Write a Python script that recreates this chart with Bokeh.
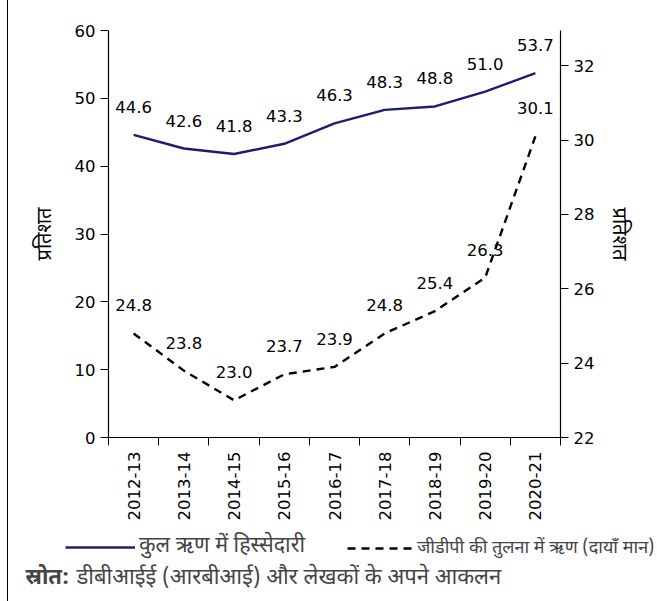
from bokeh.plotting import figure
from bokeh.models import (Range1d, LinearAxis, FixedTicker, Legend, LegendItem,
                          ColumnDataSource, Label)
from bokeh.core.properties import value
from bokeh.embed import file_html
from bokeh.resources import INLINE

# Data
years = ["2012-13", "2013-14", "2014-15", "2015-16", "2016-17",
         "2017-18", "2018-19", "2019-20", "2020-21"]
share_total_debt = [44.6, 42.6, 41.8, 43.3, 46.3, 48.3, 48.8, 51.0, 53.7]
debt_to_gdp = [24.8, 23.8, 23.0, 23.7, 23.9, 24.8, 25.4, 26.3, 30.1]
left_ticks = [0, 10, 20, 30, 40, 50, 60]
right_ticks = [22, 24, 26, 28, 30, 32]

legend_solid = "कुल ऋण में हिस्सेदारी"
legend_dashed = "जीडीपी की तुलना में ऋण (दायाँ मान)"
axis_title = "प्रतिशत"
source_bold = "स्रोत:"
source_text = "डीबीआईई (आरबीआई) और लेखकों के अपने आकलन"

NUM_FONT = "DejaVu Sans"
HI_FONT = "Noto Sans Devanagari, Noto Sans, sans-serif"
NAVY = "#1b1f6b"
SOLID_STYLE = dict(line_color=NAVY, line_width=2.4)
DASH_STYLE = dict(line_color="black", line_width=2.4, line_dash="8 6")
# thin rule along the left edge of the page
EDGE_RULE = {"background": "linear-gradient(to right, #fff 0px, #fff 7px, "
                           "#000 7px, #000 8px, #fff 8px)"}

xs = list(range(len(years)))
src = ColumnDataSource(dict(
    x=xs, share=share_total_debt, gdp=debt_to_gdp,
    share_lbl=[f"{v:.1f}" for v in share_total_debt],
    gdp_lbl=[f"{v:.1f}" for v in debt_to_gdp],
))

# ---- main chart ----
p = figure(width=657, height=530, output_backend="svg", toolbar_location=None,
           x_range=Range1d(-0.5, len(years) - 0.5), y_range=Range1d(0, 60),
           min_border_left=108, min_border_right=97, min_border_top=30,
           min_border_bottom=93, y_axis_location=None, x_axis_location=None,
           styles=EDGE_RULE)
p.extra_y_ranges = {"right": Range1d(22, 32.95)}
p.outline_line_color = None
p.xgrid.visible = False
p.ygrid.visible = False
p.background_fill_color = "white"
p.border_fill_alpha = 0

xaxis = LinearAxis(ticker=FixedTicker(ticks=xs, minor_ticks=[i - 0.5 for i in range(len(years) + 1)]),
                   major_label_overrides={i: y for i, y in enumerate(years)},
                   major_label_orientation=1.5708)
yl = LinearAxis(ticker=FixedTicker(ticks=left_ticks), axis_label=axis_title)
yr = LinearAxis(ticker=FixedTicker(ticks=right_ticks), y_range_name="right", axis_label=axis_title)
for ax in (xaxis, yl, yr):
    ax.axis_line_color = "black"
    ax.axis_line_width = 1.2
    ax.major_tick_line_color = "black"
    ax.minor_tick_line_color = "black"
    ax.major_tick_in = 0
    ax.major_tick_out = 8
    ax.minor_tick_in = 0
    ax.minor_tick_out = 0
    ax.major_label_text_font = NUM_FONT
    ax.major_label_text_font_size = "16.5px"
    ax.major_label_text_color = "black"
    ax.axis_label_text_font = HI_FONT
    ax.axis_label_text_font_size = "20px"
    ax.axis_label_text_font_style = "normal"
    ax.axis_label_text_color = "black"
xaxis.major_tick_out = 0
xaxis.minor_tick_out = 8
xaxis.major_label_standoff = 6
yl.axis_label_standoff = 13
yr.axis_label_standoff = 8
p.add_layout(xaxis, "below")
p.add_layout(yl, "left")
p.add_layout(yr, "right")

p.line("x", "share", source=src, **SOLID_STYLE)
p.line("x", "gdp", source=src, y_range_name="right", **DASH_STYLE)

p.text("x", "share", text="share_lbl", source=src, y_offset=-22,
       text_align="center", text_baseline="bottom", text_font=value(NUM_FONT),
       text_font_size="16.5px", text_color="black")
p.text("x", "gdp", text="gdp_lbl", source=src, y_range_name="right", y_offset=-22,
       text_align="center", text_baseline="bottom", text_font=value(NUM_FONT),
       text_font_size="16.5px", text_color="black")

# ---- legend and source strip ----
p2 = figure(width=657, height=71, output_backend="svg", toolbar_location=None,
            x_range=Range1d(0, 1), y_range=Range1d(0, 1),
            min_border=0, x_axis_location=None, y_axis_location=None,
            styles=EDGE_RULE)
p2.outline_line_color = None
p2.xgrid.visible = False
p2.ygrid.visible = False
p2.background_fill_alpha = 0
p2.border_fill_alpha = 0
nan = float("nan")
k_solid = p2.line([nan], [nan], **SOLID_STYLE)
k_dash = p2.line([nan], [nan], **DASH_STYLE)

legend_common = dict(orientation="horizontal", label_standoff=4,
                     label_height=26, glyph_height=26,
                     label_text_font=HI_FONT, border_line_color=None,
                     background_fill_alpha=0, padding=0, margin=0)
p2.add_layout(Legend(items=[LegendItem(label=legend_solid, renderers=[k_solid])],
                     location=(65, 40), glyph_width=70,
                     label_text_font_size="21.5px", **legend_common), "center")
p2.add_layout(Legend(items=[LegendItem(label=legend_dashed, renderers=[k_dash])],
                     location=(347, 40), glyph_width=66,
                     label_text_font_size="18px", **legend_common), "center")

p2.add_layout(Label(x=25, y=23, x_units="screen", y_units="screen", text=source_bold,
                    text_font=HI_FONT, text_font_style="bold", text_font_size="22px",
                    text_baseline="middle"))
p2.add_layout(Label(x=76, y=23, x_units="screen", y_units="screen", text=source_text,
                    text_font=HI_FONT, text_font_size="22px", text_baseline="middle"))

open("out.html", "w").write(file_html([p, p2], INLINE))
